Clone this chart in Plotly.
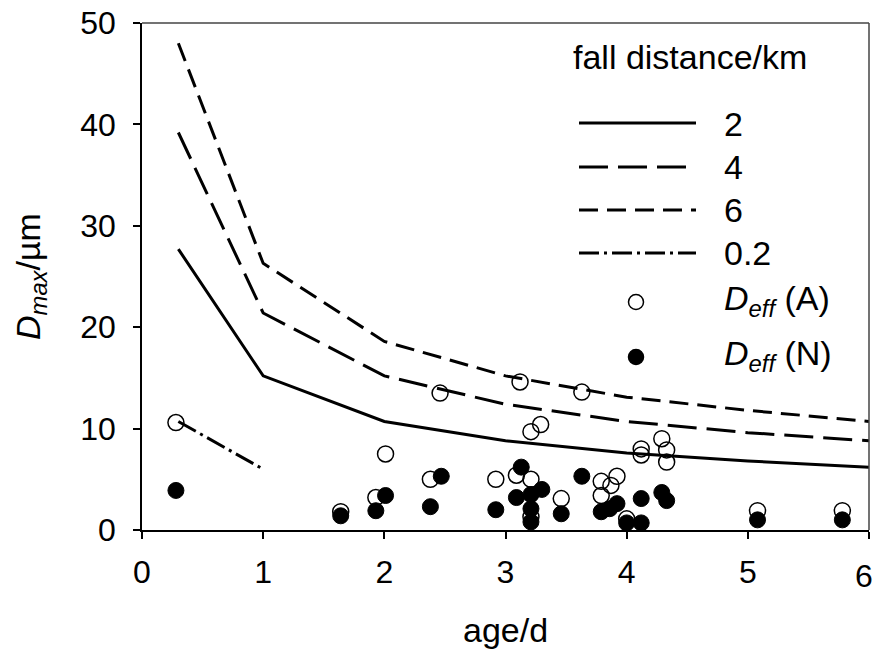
import plotly.graph_objects as go

# Model curves: maximum diameter vs. age for several fall distances
age_curve = [0.3, 1, 2, 3, 4, 5, 6]
dmax_2km = [27.7, 15.2, 10.7, 8.8, 7.6, 6.8, 6.2]
dmax_4km = [39.2, 21.4, 15.2, 12.4, 10.7, 9.6, 8.8]
dmax_6km = [48.0, 26.3, 18.6, 15.2, 13.1, 11.8, 10.7]
age_02km = [0.3, 1.0]
dmax_02km = [10.7, 6.0]

# Observed effective diameters
age_A = [0.28, 1.64, 1.93, 2.01, 2.38, 2.46, 2.92, 3.09, 3.12, 3.21, 3.29, 3.21,
         3.21, 3.46, 3.63, 3.79, 3.87, 3.92, 3.79, 4.00, 4.12, 4.12, 4.29, 4.33,
         4.33, 5.08, 5.78]
deff_A = [10.6, 1.8, 3.2, 7.5, 5.0, 13.5, 5.0, 5.4, 14.6, 9.7, 10.4, 5.0,
          1.3, 3.1, 13.6, 4.8, 4.4, 5.3, 3.4, 1.1, 8.0, 7.4, 9.0, 7.9,
          6.7, 1.9, 1.9]
age_N = [0.28, 1.64, 1.93, 2.01, 2.38, 2.47, 2.92, 3.09, 3.13, 3.21, 3.21, 3.21,
         3.30, 3.46, 3.63, 3.79, 3.86, 3.92, 4.00, 4.12, 4.12, 4.29, 4.33, 5.08,
         5.78]
deff_N = [3.9, 1.4, 1.9, 3.4, 2.3, 5.3, 2.0, 3.2, 6.2, 3.5, 2.1, 0.8,
          4.0, 1.6, 5.3, 1.8, 2.1, 2.6, 0.7, 0.7, 3.1, 3.7, 2.9, 1.0,
          1.0]

x_ticks = [0, 1, 2, 3, 4, 5, 6]
x_ticklabels = ["0", "1", "2", "3", "4", "5", "6"]

legend_title = "fall distance/km"
legend_labels = ["2", "4", "6", "0.2",
                 "<i>D</i><sub><i>eff</i></sub> (A)",
                 "<i>D</i><sub><i>eff</i></sub> (N)"]

FONT = "Liberation Sans, Arial, sans-serif"
FS = 34
TICK_FS = 32
DASH_4 = "29px,10px"
DASH_6 = "19px,9px"
DASH_02 = "20px,5px,3px,5px"

W, H = 876, 653
L, R, T, B = 142, 7, 23, 123
PW, PH = W - L - R, H - T - B


def px(x):
    return (x - L) / PW


def py(y):
    return (H - B - y) / PH


fig = go.Figure()

fig.add_trace(go.Scatter(x=age_curve, y=dmax_2km, mode="lines",
                         line=dict(color="black", width=3)))
fig.add_trace(go.Scatter(x=age_curve, y=dmax_4km, mode="lines",
                         line=dict(color="black", width=3, dash=DASH_4)))
fig.add_trace(go.Scatter(x=age_curve, y=dmax_6km, mode="lines",
                         line=dict(color="black", width=3, dash=DASH_6)))
fig.add_trace(go.Scatter(x=age_02km, y=dmax_02km, mode="lines",
                         line=dict(color="black", width=3, dash=DASH_02)))
fig.add_trace(go.Scatter(x=age_A, y=deff_A, mode="markers",
                         marker=dict(symbol="circle-open", size=16, color="black",
                                     line=dict(width=1.5, color="black"))))
fig.add_trace(go.Scatter(x=age_N, y=deff_N, mode="markers",
                         marker=dict(symbol="circle", size=16, color="black",
                                     line=dict(width=1, color="black"))))

shapes = []
# top and right frame
shapes.append(dict(type="line", xref="paper", yref="paper", x0=0, x1=1, y0=1, y1=1,
                   line=dict(color="#444444", width=1.5)))
shapes.append(dict(type="line", xref="paper", yref="paper", x0=1, x1=1, y0=0, y1=1,
                   line=dict(color="#444444", width=1.5)))

# legend samples
sample_x0, sample_x1 = 579, 696
line_rows = [(123, "solid"), (167, DASH_4), (210, DASH_6), (253, DASH_02)]
for yy, dash in line_rows:
    shapes.append(dict(type="line", xref="paper", yref="paper",
                       x0=px(sample_x0), x1=px(sample_x1), y0=py(yy), y1=py(yy),
                       line=dict(color="black", width=3, dash=dash)))
for yy, filled in [(302, False), (357, True)]:
    shapes.append(dict(type="circle", xref="paper", yref="paper",
                       xsizemode="pixel", ysizemode="pixel",
                       xanchor=px(636), yanchor=py(yy),
                       x0=-7.5, x1=7.5, y0=-7.5, y1=7.5,
                       fillcolor="black" if filled else "rgba(0,0,0,0)",
                       line=dict(color="black", width=1.5)))

annotations = [
    dict(text=legend_title, xref="paper", yref="paper", x=px(690), y=py(57),
         xanchor="center", yanchor="middle", showarrow=False,
         font=dict(size=FS, family=FONT, color="black")),
]
for yy, lab in zip([124, 167, 210, 253, 300, 355], legend_labels):
    annotations.append(dict(text=lab, xref="paper", yref="paper", x=px(722), y=py(yy),
                            xanchor="left", yanchor="middle", showarrow=False,
                            font=dict(size=FS, family=FONT, color="black")))
# last x tick label sits at the page edge, so it is right-aligned to stay inside
annotations.append(dict(text=x_ticklabels[-1], xref="paper", yref="paper",
                        x=px(W - 1), y=py(576), xanchor="right", yanchor="middle",
                        showarrow=False,
                        font=dict(size=TICK_FS, family=FONT, color="black")))
# axis titles
annotations.append(dict(text="age/d", xref="paper", yref="paper", x=px(505), y=py(630),
                        xanchor="center", yanchor="middle", showarrow=False,
                        font=dict(size=FS, family=FONT, color="black")))
annotations.append(dict(text="<i>D</i><sub><i>max</i></sub>/µm", xref="paper", yref="paper",
                        x=px(30), y=py(277), textangle=-90,
                        xanchor="center", yanchor="middle", showarrow=False,
                        font=dict(size=FS, family=FONT, color="black")))

axis_common = dict(showgrid=False, zeroline=False, showline=True, linecolor="black",
                   linewidth=1.5, ticks="outside", ticklen=7, tickwidth=1.5,
                   tickcolor="black", automargin=False, ticklabeloverflow="allow",
                   tickfont=dict(size=TICK_FS, family=FONT, color="black"))

fig.update_layout(
    width=W, height=H,
    margin=dict(l=L, r=R, t=T, b=B),
    paper_bgcolor="white", plot_bgcolor="white",
    showlegend=False,
    xaxis=dict(range=[0, 6], tickmode="array", tickvals=x_ticks,
               ticktext=x_ticklabels[:-1] + [""],
               ticklabelstandoff=6, **axis_common),
    yaxis=dict(range=[0, 50], tickmode="linear", tick0=0, dtick=10,
               ticklabelstandoff=11, **axis_common),
    shapes=shapes,
    annotations=annotations,
)

fig.write_html("out.html")
